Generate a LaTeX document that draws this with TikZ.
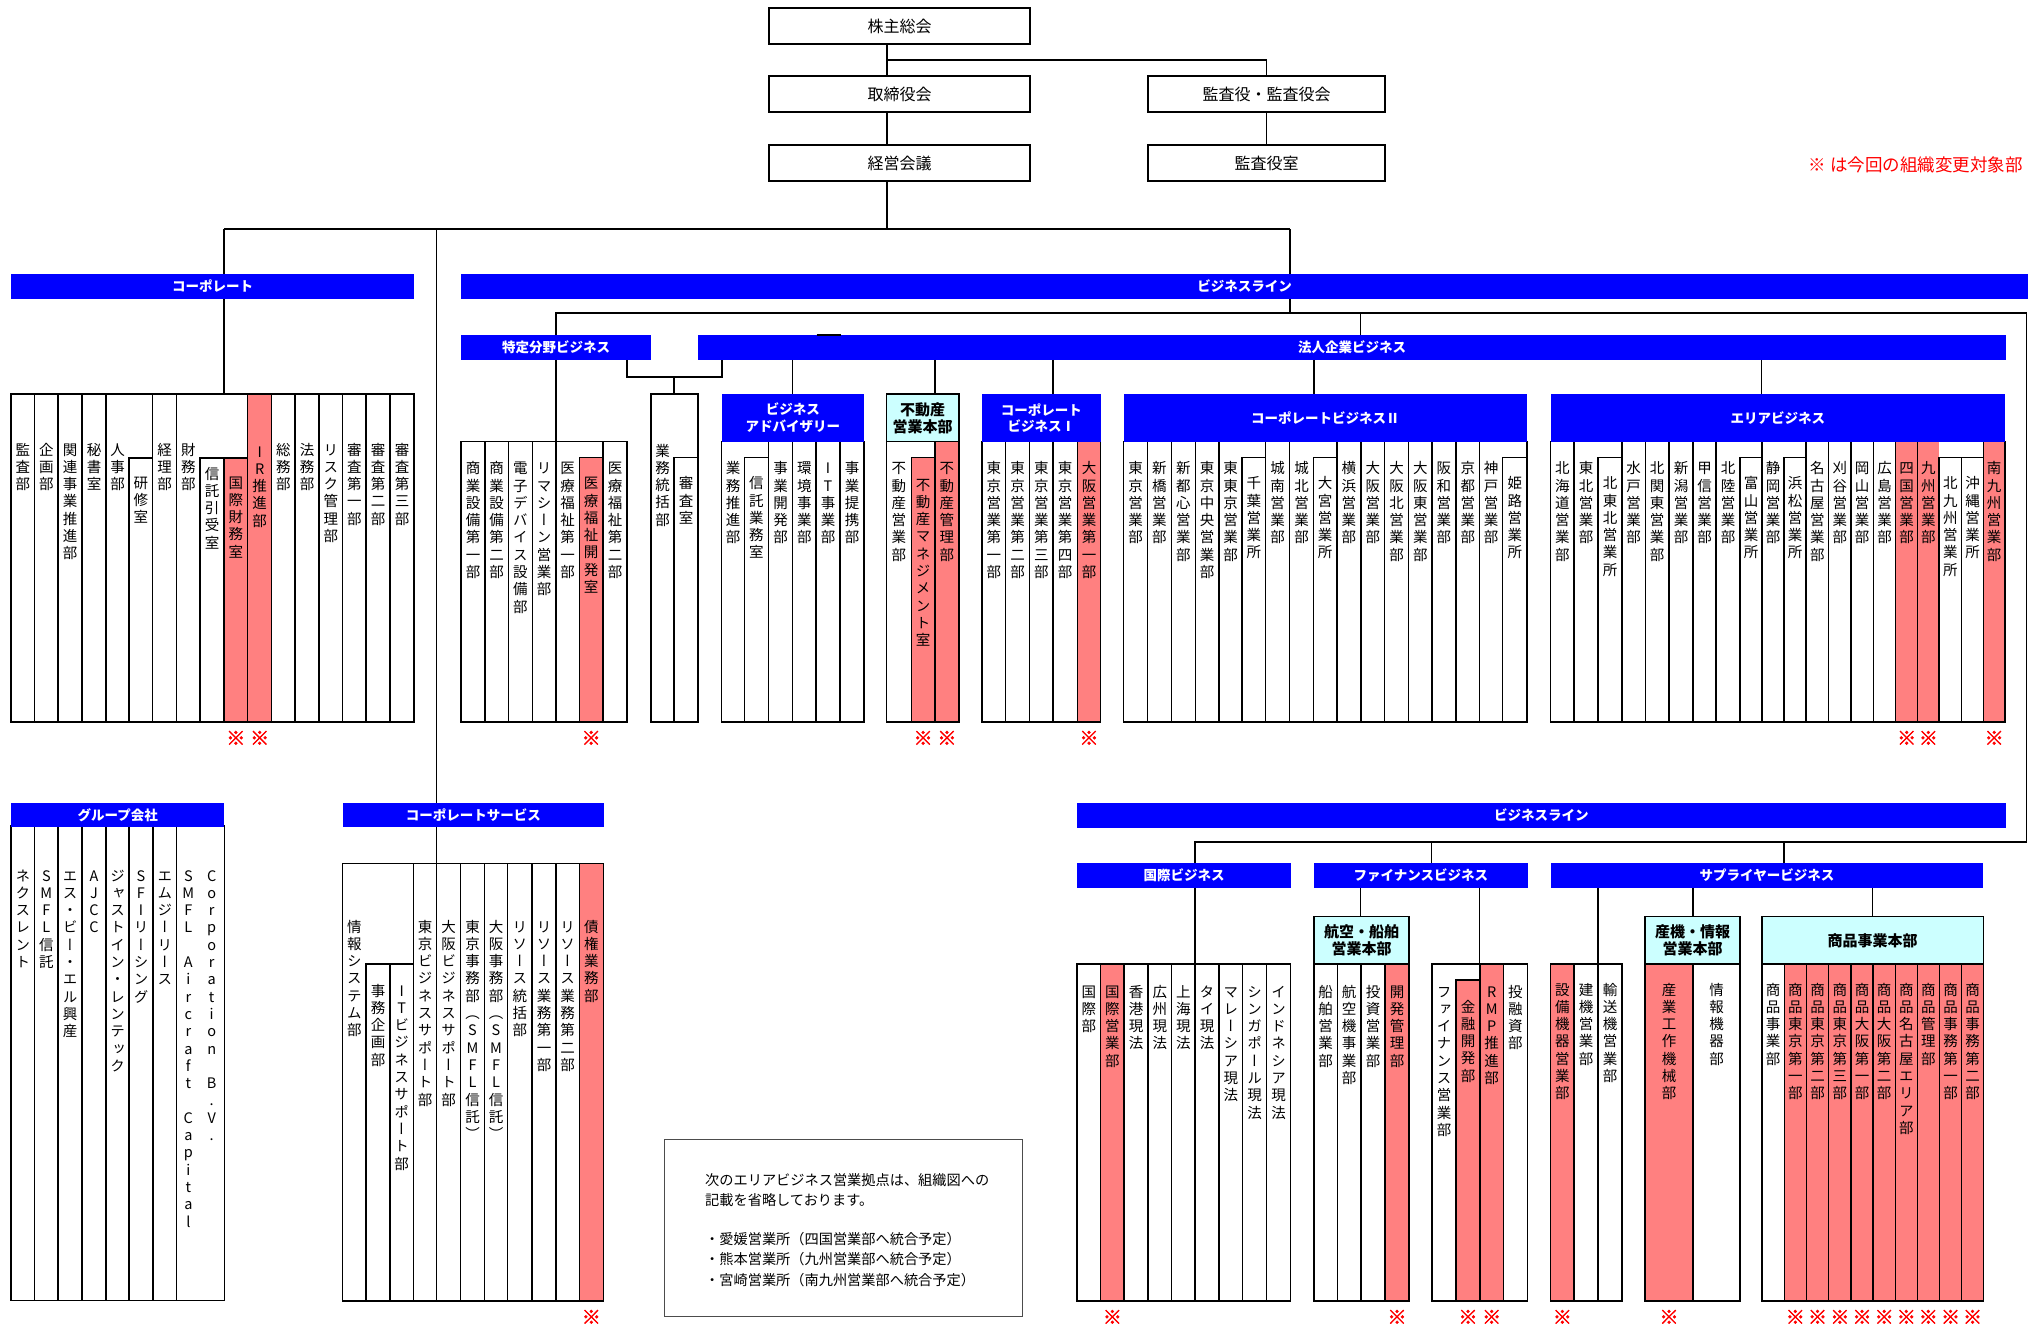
\documentclass[tikz,border=0pt]{standalone}
\usepackage{fontspec}
\setmainfont{Noto Sans CJK JP}
\newfontfamily\vfont[RawFeature=+vert]{Noto Sans CJK JP}
\newfontfamily\markfont[FakeBold=2.5]{Noto Sans CJK JP}

\definecolor{barblue}{HTML}{0000FF}
\definecolor{chgpink}{HTML}{FF8080}
\definecolor{hqcyan}{HTML}{CCFFFF}

% vertical text: one character on each line
\makeatletter
\def\vt@end{\vt@end}
\def\vsp{\relax}
\newcommand{\vtext}[1]{\vbox{\offinterlineskip\vt@loop#1\vt@end}}
\def\vt@loop#1{\ifx#1\vt@end\else\hbox to 1.2em{\hss\vrule height 13.8pt depth 3.5pt width 0pt\relax#1\hss}\expandafter\vt@loop\fi}
\makeatother

% one column: fill, x1, x2, right edge of text cell, top, text top, name
\newcounter{deptno}
\newcommand{\unitcell}[7]{%
  \stepcounter{deptno}%
  \fill[#1] (#2,#5) rectangle (#4,\gbot);
  \draw[deptbox] (#2,#5) rectangle (#3,\gbot);
  \node[coltext] (dept\thedeptno) at ({(#2+#4)/2},#6-2) {\vtext{#7}};
}
\newcommand{\deptcol}[6][]{%
  \ifx\relax#1\relax\def\txr{#3}\else\def\txr{#1}\fi
  \unitcell{white}{#2}{#3}{\txr}{#4}{#5}{#6}}
\newcommand{\chgcol}[6][]{%
  \ifx\relax#1\relax\def\txr{#3}\else\def\txr{#1}\fi
  \unitcell{chgpink}{#2}{#3}{\txr}{#4}{#5}{#6}%
  \node[chgmark] (mark\thedeptno) at ({(#2+\txr)/2},\gbot+16) {※};}

\begin{document}
\begin{tikzpicture}[x=1pt, y=-1pt,
    deptbox/.style={draw, line width=1.3pt},
    coltext/.style={anchor=north, inner sep=0pt, font=\vfont\fontsize{14.5}{17.3}\selectfont},
    chgmark/.style={inner sep=0pt, text=red, font=\markfont\fontsize{19}{19}\selectfont},
    topbox/.style={draw, line width=1.3pt, inner sep=0pt, minimum width=261, minimum height=36, font=\fontsize{16}{16}\selectfont},
    bar/.style={fill=barblue, text=white, inner sep=0pt, minimum height=24.5, font=\bfseries\fontsize{13.5}{16.7}\selectfont, align=center},
    bluehq/.style={bar, minimum height=47.7},
    cyanhq/.style={draw, line width=1.3pt, fill=hqcyan, inner sep=0pt, minimum height=47.3, font=\bfseries\fontsize{15}{17}\selectfont, align=center},
    conn/.style={line width=1.3pt},
  ]
    \useasboundingbox (0,0) rectangle (2036,1323);

    % -----------------------------------------------------
    % 1) Top of the chart
    % -----------------------------------------------------
    \node[topbox] (sokai) at (899.5,26) {株主総会};
    \node[topbox] (torishimari) at (899.5,94) {取締役会};
    \node[topbox] (keiei) at (899.5,163) {経営会議};
    \node[topbox, minimum width=237] (kansa) at (1266.5,94) {監査役・監査役会};
    \node[topbox, minimum width=237] (kansashitsu) at (1266.5,163) {監査役室};

    \node[anchor=east, inner sep=0pt, text=red, font=\fontsize{17.5}{17.5}\selectfont] (legend) at (2023,165) {※ は今回の組織変更対象部};

    % -----------------------------------------------------
    % 2) Corporate
    % -----------------------------------------------------
    \def\gbot{722}
    \deptcol{11}{34.7}{394}{443}{監査部}
    \deptcol{34.7}{58}{394}{443}{企画部}
    \deptcol{58}{82}{394}{443}{関連事業推進部}
    \deptcol{82}{106}{394}{443}{秘書室}
    \deptcol[129]{106}{152.7}{394}{443}{人事部}
    \deptcol{129}{152.7}{458}{476}{研修室}
    \deptcol{152.7}{176.7}{394}{443}{経理部}
    \deptcol[200]{176.7}{247.7}{394}{443}{財務部}
    \deptcol{200}{224}{458}{467}{信託引受室}
    \chgcol{224}{247.7}{458}{476}{国際財務室}
    \chgcol{247.7}{271.7}{394}{445}{IR推進部}
    \deptcol{271.7}{295}{394}{443}{総務部}
    \deptcol{295}{319}{394}{443}{法務部}
    \deptcol{319}{342.7}{394}{443}{リスク管理部}
    \deptcol{342.7}{366}{394}{443}{審査第一部}
    \deptcol{366}{390}{394}{443}{審査第二部}
    \deptcol{390}{414}{394}{443}{審査第三部}

    % -----------------------------------------------------
    % 3) Business line, upper half
    % -----------------------------------------------------
    % special fields
    \deptcol{461}{485}{441.7}{461.7}{商業設備第一部}
    \deptcol{485}{508.3}{441.7}{461.7}{商業設備第二部}
    \deptcol{508.3}{532.3}{441.7}{461.7}{電子デバイス設備部}
    \deptcol{532.3}{556}{441.7}{461.7}{リマシーン営業部}
    \deptcol[579.3]{556}{603}{441.7}{461.7}{医療福祉第一部}
    \chgcol{579.3}{603}{457.7}{476.7}{医療福祉開発室}
    \deptcol{603}{627}{441.7}{461.7}{医療福祉第二部}
    \deptcol[674]{651}{698}{394}{444}{業務統括部}
    \deptcol{674}{698}{457.7}{476.7}{審査室}

    % business advisory
    \deptcol[744.3]{721.7}{768.3}{441.7}{461.7}{業務推進部}
    \deptcol{744.3}{768.3}{457.7}{476.7}{信託業務室}
    \deptcol{768.3}{792.7}{441.7}{461.7}{事業開発部}
    \deptcol{792.7}{816}{441.7}{461.7}{環境事業部}
    \deptcol{816}{840}{441.7}{461.7}{IT事業部}
    \deptcol{840}{864}{441.7}{461.7}{事業提携部}

    % real estate
    \deptcol[911.2]{886.5}{935}{441.7}{461.7}{不動産営業部}
    \chgcol{911.2}{935}{457.7}{478}{不動産マネジメント室}
    \chgcol{935}{958.9}{441.7}{461.7}{不動産管理部}

    % corporate business I
    \deptcol{981.9}{1005.7}{441.7}{461.7}{東京営業第一部}
    \deptcol{1005.7}{1029.6}{441.7}{461.7}{東京営業第二部}
    \deptcol{1029.6}{1053}{441.7}{461.7}{東京営業第三部}
    \deptcol{1053}{1077.3}{441.7}{461.7}{東京営業第四部}
    \chgcol{1077.3}{1100.7}{441.7}{461.7}{大阪営業第一部}

    % corporate business II
    \deptcol{1123.7}{1147.5}{441.7}{461.7}{東京営業部}
    \deptcol{1147.5}{1171.4}{441.7}{461.7}{新橋営業部}
    \deptcol{1171.4}{1195.2}{441.7}{461.7}{新都心営業部}
    \deptcol{1195.2}{1219.1}{441.7}{461.7}{東京中央営業部}
    \deptcol[1242.1]{1219.1}{1265.5}{441.7}{461.7}{東東京営業部}
    \deptcol{1242.1}{1265.5}{457.7}{476.7}{千葉営業所}
    \deptcol{1265.5}{1289.8}{441.7}{461.7}{城南営業部}
    \deptcol[1313.2]{1289.8}{1337}{441.7}{461.7}{城北営業部}
    \deptcol{1313.2}{1337}{457.7}{476.7}{大宮営業所}
    \deptcol{1337}{1360.9}{441.7}{461.7}{横浜営業部}
    \deptcol{1360.9}{1384.7}{441.7}{461.7}{大阪営業部}
    \deptcol{1384.7}{1408.6}{441.7}{461.7}{大阪北営業部}
    \deptcol{1408.6}{1432}{441.7}{461.7}{大阪東営業部}
    \deptcol{1432}{1455.9}{441.7}{461.7}{阪和営業部}
    \deptcol{1455.9}{1479.7}{441.7}{461.7}{京都営業部}
    \deptcol[1502.7]{1479.7}{1527}{441.7}{461.7}{神戸営業部}
    \deptcol{1502.7}{1527}{457.7}{476.7}{姫路営業所}

    % area business
    \deptcol{1550.7}{1574}{441.7}{461.7}{北海道営業部}
    \deptcol[1598]{1574}{1622}{441.7}{461.7}{東北営業部}
    \deptcol{1598}{1622}{457.7}{476.7}{北東北営業所}
    \deptcol{1622}{1645.3}{441.7}{461.7}{水戸営業部}
    \deptcol{1645.3}{1669}{441.7}{461.7}{北関東営業部}
    \deptcol{1669}{1693}{441.7}{461.7}{新潟営業部}
    \deptcol{1693}{1716}{441.7}{461.7}{甲信営業部}
    \deptcol[1740]{1716}{1762}{441.7}{461.7}{北陸営業部}
    \deptcol{1740}{1762}{457.7}{476.7}{富山営業所}
    \deptcol[1784]{1762}{1806}{441.7}{461.7}{静岡営業部}
    \deptcol{1784}{1806}{457.7}{476.7}{浜松営業所}
    \deptcol{1806}{1828.7}{441.7}{461.7}{名古屋営業部}
    \deptcol{1828.7}{1851}{441.7}{461.7}{刈谷営業部}
    \deptcol{1851}{1873.3}{441.7}{461.7}{岡山営業部}
    \deptcol{1873.3}{1895.7}{441.7}{461.7}{広島営業部}
    \chgcol{1895.7}{1917.7}{441.7}{461.7}{四国営業部}
    \chgcol[1939]{1917.7}{1983.3}{441.7}{461.7}{九州営業部}
    \deptcol{1939}{1961.7}{457.7}{476.7}{北九州営業所}
    \deptcol{1961.7}{1983.3}{457.7}{476.7}{沖縄営業所}
    \chgcol{1983.3}{2005}{441.7}{461.7}{南九州営業部}

    % -----------------------------------------------------
    % 4) Group companies and corporate services
    % -----------------------------------------------------
    \def\gbot{1300.5}
    \deptcol{11}{34.7}{826}{869}{ネクスレント}
    \deptcol{34.7}{58}{826}{869}{SMFL信託}
    \deptcol{58}{82}{826}{869}{エス・ビー・エル興産}
    \deptcol{82}{106}{826}{869}{AJCC}
    \deptcol{106}{129}{826}{869}{ジャストイン・レンテック}
    \deptcol{129}{153}{826}{869}{SFIリーシング}
    \deptcol{153}{176.7}{826}{869}{エムジーリース}
    \deptcol[200]{176.7}{224.3}{826}{869}{SMFL\vsp Aircraft\vsp Capital}
    \node[coltext] (cbv) at (211.7,867) {\vtext{Corporation\vsp B.V.}};

    \def\gbot{1301}
    \deptcol[366]{342.7}{413.3}{863.7}{920}{情報システム部}
    \deptcol{366}{390}{964}{984}{事務企画部}
    \deptcol{390}{413.3}{964}{984}{ITビジネスサポート部}
    \deptcol{413.3}{436.7}{863.7}{920}{東京ビジネスサポート部}
    \deptcol{436.7}{460.7}{863.7}{920}{大阪ビジネスサポート部}
    \deptcol{460.7}{484.3}{863.7}{920}{東京事務部（SMFL信託）}
    \deptcol{484.3}{507.7}{863.7}{920}{大阪事務部（SMFL信託）}
    \deptcol{507.7}{532}{863.7}{920}{リソース統括部}
    \deptcol{532}{556}{863.7}{920}{リソース業務第一部}
    \deptcol{556}{579.3}{863.7}{920}{リソース業務第二部}
    \chgcol{579.3}{603.3}{863.7}{920}{債権業務部}

    % -----------------------------------------------------
    % 5) Business line, lower half
    % -----------------------------------------------------
    \deptcol{1077}{1100.7}{964}{985}{国際部}
    \chgcol{1100.7}{1124}{964}{985}{国際営業部}
    \deptcol{1124}{1148}{964}{985}{香港現法}
    \deptcol{1148}{1171.7}{964}{985}{広州現法}
    \deptcol{1171.7}{1195}{964}{985}{上海現法}
    \deptcol{1195}{1219}{964}{985}{タイ現法}
    \deptcol{1219}{1242.7}{964}{985}{マレーシア現法}
    \deptcol{1242.7}{1266.7}{964}{985}{シンガポール現法}
    \deptcol{1266.7}{1290.3}{964}{985}{インドネシア現法}

    \deptcol{1314}{1337.3}{964}{985}{船舶営業部}
    \deptcol{1337.3}{1361}{964}{985}{航空機事業部}
    \deptcol{1361}{1385}{964}{985}{投資営業部}
    \chgcol{1385}{1409}{964}{985}{開発管理部}
    \deptcol[1456]{1432}{1480}{964}{985}{ファイナンス営業部}
    \chgcol{1456}{1480}{980}{1000}{金融開発部}
    \chgcol{1480}{1503.3}{964}{985}{RMP推進部}
    \deptcol{1503.3}{1527.3}{964}{985}{投融資部}

    \chgcol{1550.7}{1574}{964}{983}{設備機器営業部}
    \deptcol{1574}{1598}{964}{983}{建機営業部}
    \deptcol{1598}{1622}{964}{983}{輸送機営業部}
    \chgcol{1645}{1693}{964}{983}{産業工作機械部}
    \deptcol{1693}{1740}{964}{983}{情報機器部}
    \deptcol{1762}{1784.3}{964}{983}{商品事業部}
    \chgcol{1784.3}{1806.3}{964}{983}{商品東京第一部}
    \chgcol{1806.3}{1828.7}{964}{983}{商品東京第二部}
    \chgcol{1828.7}{1851}{964}{983}{商品東京第三部}
    \chgcol{1851}{1873}{964}{983}{商品大阪第一部}
    \chgcol{1873}{1895.3}{964}{983}{商品大阪第二部}
    \chgcol{1895.3}{1917.3}{964}{983}{商品名古屋エリア部}
    \chgcol{1917.3}{1939.3}{964}{983}{商品管理部}
    \chgcol{1939.3}{1961.7}{964}{983}{商品事務第一部}
    \chgcol{1961.7}{1983.3}{964}{983}{商品事務第二部}

    % -----------------------------------------------------
    % 6) Bars and head offices
    % -----------------------------------------------------
    \node[bar, minimum width=403] (corpbar) at (212.5,286.5) {コーポレート};
    \node[bar, minimum width=1567] (blbar) at (1244.5,286.5) {ビジネスライン};
    \node[bar, minimum width=190] (tokuteibar) at (556,347.3) {特定分野ビジネス};
    \node[bar, minimum width=1307.7] (houjinbar) at (1352.2,347.3) {法人企業ビジネス};
    \node[bar, minimum width=213.3] (groupbar) at (117.7,815) {グループ会社};
    \node[bar, minimum width=261.3] (csbar) at (473.4,815) {コーポレートサービス};
    \node[bar, minimum width=929.2] (bl2bar) at (1541.4,815.3) {ビジネスライン};
    \node[bar, minimum width=214] (kokusaibar) at (1184,875.5) {国際ビジネス};
    \node[bar, minimum width=213.7] (financebar) at (1420.9,875.5) {ファイナンスビジネス};
    \node[bar, minimum width=432.6] (supplierbar) at (1767,875.5) {サプライヤービジネス};

    \node[bluehq, minimum width=142.3] (bahq) at (792.9,417.9) {ビジネス\\アドバイザリー};
    \node[cyanhq, minimum width=72.4, minimum height=47.7] (fdhq) at (922.7,417.9) {不動産\\営業本部};
    \node[bluehq, minimum width=118.8] (cb1hq) at (1041.3,417.9) {コーポレート\\ビジネスⅠ};
    \node[bluehq, minimum width=403.3] (cb2hq) at (1325.4,417.9) {コーポレートビジネスⅡ};
    \node[bluehq, minimum width=454.3] (areahq) at (1777.9,417.9) {エリアビジネス};
    \node[cyanhq, minimum width=95] (kshq) at (1361.5,940.4) {航空・船舶\\営業本部};
    \node[cyanhq, minimum width=95] (sjhq) at (1692.5,940.4) {産機・情報\\営業本部};
    \node[cyanhq, minimum width=221.3] (shhq) at (1872.7,940.4) {商品事業本部};

    % -----------------------------------------------------
    % 7) Connectors
    % -----------------------------------------------------
    \coordinate (j0) at (887,60);
    \coordinate (j1) at (887,229);
    \coordinate (jc) at (224,229);
    \coordinate (js) at (436.5,229);
    \coordinate (jb) at (1290,229);
    \draw[conn] (sokai.south -| j0) -- (torishimari.north -| j0);
    \draw[conn] (j0) -| (kansa.north);
    \draw[conn] (torishimari.south -| j0) -- (keiei.north -| j0);
    \draw[conn] (kansa.south) -- (kansashitsu.north);
    \draw[conn] (keiei.south -| j1) -- (j1);
    \draw[conn] (jc) -- (jb);

    \coordinate (c-corp) at (224,394);
    \coordinate (c-cs) at (436.5,863.7);
    \draw[conn] (jc) -- (corpbar.north -| jc);
    \draw[conn] (corpbar.south -| c-corp) -- (c-corp);
    \draw[conn] (js) -- (csbar.north -| js);
    \draw[conn] (csbar.south -| c-cs) -- (c-cs);

    \coordinate (k0) at (556,313);
    \coordinate (k2) at (1360.5,313);
    \coordinate (k3) at (2026.7,313);
    \coordinate (l0) at (1195,842);
    \coordinate (l1) at (1431.6,842);
    \coordinate (l2) at (1784,842);
    \draw[conn] (jb) -- (blbar.north -| jb);
    \draw[conn] (blbar.south -| jb) -- (jb |- k0);
    \draw[conn] (tokuteibar.north -| k0) -- (k0) -- (k3) |- (l0) -- (kokusaibar.north -| l0);
    \draw[conn] (k2) -- (houjinbar.north -| k2);
    \draw[conn] (l1) -- (financebar.north -| l1);
    \draw[conn] (l2) -- (supplierbar.north -| l2);
    \draw[conn] ([xshift=118.4pt]houjinbar.north west) -- ++(24,0);

    \coordinate (c-tok) at (556,441.7);
    \coordinate (t-a) at (627,377);
    \coordinate (t-b) at (722,377);
    \coordinate (c-gyo) at (674,394);
    \draw[conn] (tokuteibar.south -| c-tok) -- (c-tok);
    \draw[conn] (tokuteibar.south -| t-a) -- (t-a) -- (t-b) -- (houjinbar.south -| t-b);
    \draw[conn] (c-gyo |- t-a) -- (c-gyo);

    \coordinate (c-ba) at (792.7,394);
    \coordinate (c-fd) at (935,394);
    \coordinate (c-cb1) at (1053,394);
    \coordinate (c-cb2) at (1314,394);
    \coordinate (c-area) at (1761.7,394);
    \foreach \c in {c-ba, c-fd, c-cb1, c-cb2, c-area}
        \draw[conn] (houjinbar.south -| \c) -- (\c);

    \coordinate (c-kok) at (1195,964);
    \coordinate (c-ks) at (1360.7,916.7);
    \coordinate (c-fin) at (1479.7,964);
    \coordinate (c-sup) at (1598,964);
    \coordinate (c-sj) at (1693,916.7);
    \coordinate (c-sh) at (1872.7,916.7);
    \draw[conn] (kokusaibar.south -| c-kok) -- (c-kok);
    \foreach \c in {c-ks, c-fin}
        \draw[conn] (financebar.south -| \c) -- (\c);
    \foreach \c in {c-sup, c-sj, c-sh}
        \draw[conn] (supplierbar.south -| \c) -- (\c);

    % -----------------------------------------------------
    % 8) Note
    % -----------------------------------------------------
    \node[draw=black!70, line width=0.9pt, minimum width=357.5, minimum height=177.7, inner sep=0pt] (note) at (843.3,1228) {};
    \node[anchor=north west, inner sep=0pt, align=left, font=\fontsize{14.2}{20.5}\selectfont] (notetxt) at (705,1173)
        {次のエリアビジネス営業拠点は、組織図への\\記載を省略しております。\\[18pt]・愛媛営業所（四国営業部へ統合予定）\\・熊本営業所（九州営業部へ統合予定）\\・宮崎営業所（南九州営業部へ統合予定）};

\end{tikzpicture}
\end{document}
